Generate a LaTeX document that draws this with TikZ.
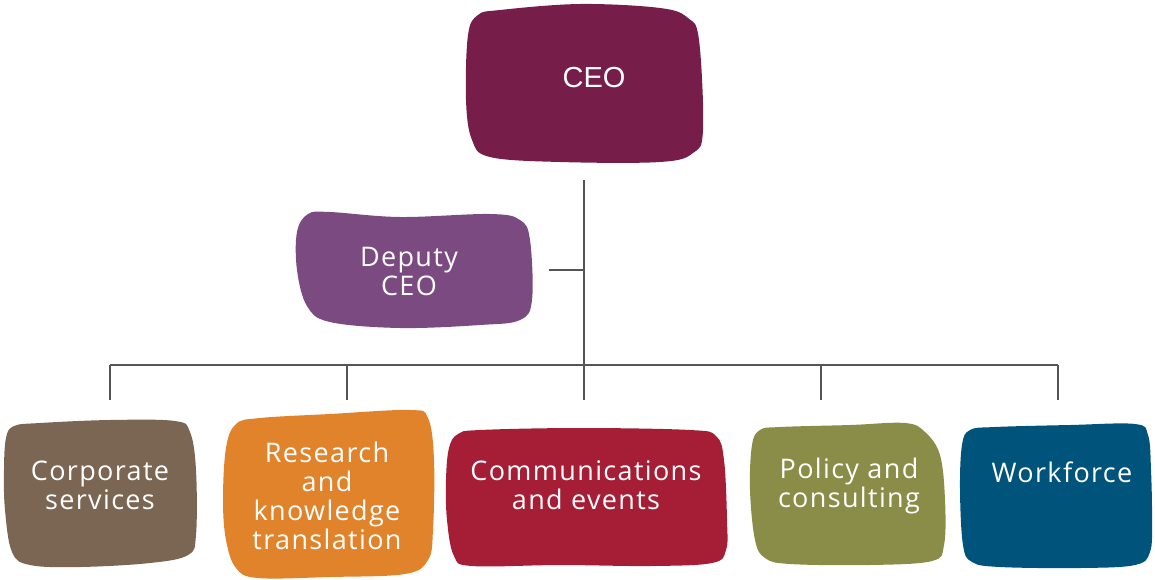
\documentclass[tikz,border=0pt]{standalone}
\usepackage{fontspec}
\setmainfont{Open Sans}[LetterSpace=5]
\newfontfamily\ceofont{Liberation Sans}
\definecolor{ceoc}{HTML}{771D49}
\definecolor{depc}{HTML}{7B4A80}
\definecolor{corpc}{HTML}{7A6653}
\definecolor{resc}{HTML}{E0832B}
\definecolor{comc}{HTML}{A51E36}
\definecolor{polc}{HTML}{8A8D48}
\definecolor{wfc}{HTML}{00537B}
\definecolor{linec}{HTML}{555555}
\begin{document}
\begin{tikzpicture}[x=1pt,y=-1pt,
  blob/.style={fill=#1,draw=none},
  lbl/.style={text=white,font=\fontsize{27}{29}\selectfont,align=center,inner sep=0pt},
  conn/.style={draw=linec,line width=1.2pt}]
\useasboundingbox (0,0) rectangle (1155,579);
% blobs
\fill[ceoc] plot[smooth cycle,tension=0.6] coordinates {(468,35)(478,15)(500,10)(580,4)(660,8)(688,18)(699,40)(703,130)(693,153)(660,162)(560,162)(490,157)(472,140)(466,100)};
\fill[depc] plot[smooth cycle,tension=0.6] coordinates {(297,232)(308,214)(330,212)(400,217)(490,214)(520,220)(530,240)(532,300)(520,320)(480,325)(400,328)(330,322)(307,306)(297,270)};
\fill[corpc] plot[smooth cycle,tension=0.6] coordinates {(6,438)(14,426)(40,423)(110,420)(175,421)(190,432)(196,470)(196,535)(188,555)(150,563)(80,567)(30,565)(12,552)(5,510)(4,470)};
\fill[resc] plot[smooth cycle,tension=0.6] coordinates {(226,448)(236,424)(260,418)(330,414)(410,410)(428,418)(434,460)(433,530)(428,560)(405,574)(330,577)(258,578)(236,568)(226,540)(223,500)};
\fill[comc] plot[smooth cycle,tension=0.6] coordinates {(449,448)(458,434)(480,430)(580,428)(690,430)(716,436)(724,460)(727,520)(726,550)(712,563)(650,566)(560,565)(472,566)(454,556)(447,520)(446,480)};
\fill[polc] plot[smooth cycle,tension=0.6] coordinates {(752,445)(760,430)(780,427)(850,425)(905,423)(925,432)(940,455)(945,500)(944,545)(932,561)(870,565)(790,564)(765,558)(755,540)(750,490)};
\fill[wfc] plot[smooth cycle,tension=0.6] coordinates {(962,445)(970,430)(995,427)(1070,425)(1135,424)(1148,435)(1151,470)(1152,520)(1150,552)(1135,565)(1080,568)(1000,567)(972,562)(963,545)(960,490)};
% labels
\node[lbl,font=\ceofont\fontsize{29}{32}\selectfont] (ceo) at (594,78) {CEO};
\node[lbl] (dep) at (409,271) {Deputy\\CEO};
\node[lbl] (corp) at (100,485) {Corporate\\services};
\node[lbl] (res) at (327,496) {Research\\and\\knowledge\\translation};
\node[lbl] (com) at (586,485) {Communications\\and events};
\node[lbl] (pol) at (849,486) {Policy and\\consulting};
\node[lbl] (wf) at (1062,472) {Workforce};
% connectors
\coordinate (top) at (584,180);
\coordinate (jn) at (584,365);
\coordinate (dj) at (584,270);
\coordinate (dl) at (549,270);
\coordinate (h1) at (110,365);
\coordinate (h2) at (347,365);
\coordinate (h4) at (821,365);
\coordinate (h5) at (1058,365);
\coordinate (d1) at (110,400);
\coordinate (d2) at (347,400);
\coordinate (d3) at (584,400);
\coordinate (d4) at (821,400);
\coordinate (d5) at (1058,400);
\draw[conn] (top) -- (jn);
\draw[conn] (dl) -- (dj);
\draw[conn] (h1) -- (h5);
\draw[conn] (h1) -- (d1);
\draw[conn] (h2) -- (d2);
\draw[conn] (jn) -- (d3);
\draw[conn] (h4) -- (d4);
\draw[conn] (h5) -- (d5);
\end{tikzpicture}
\end{document}
